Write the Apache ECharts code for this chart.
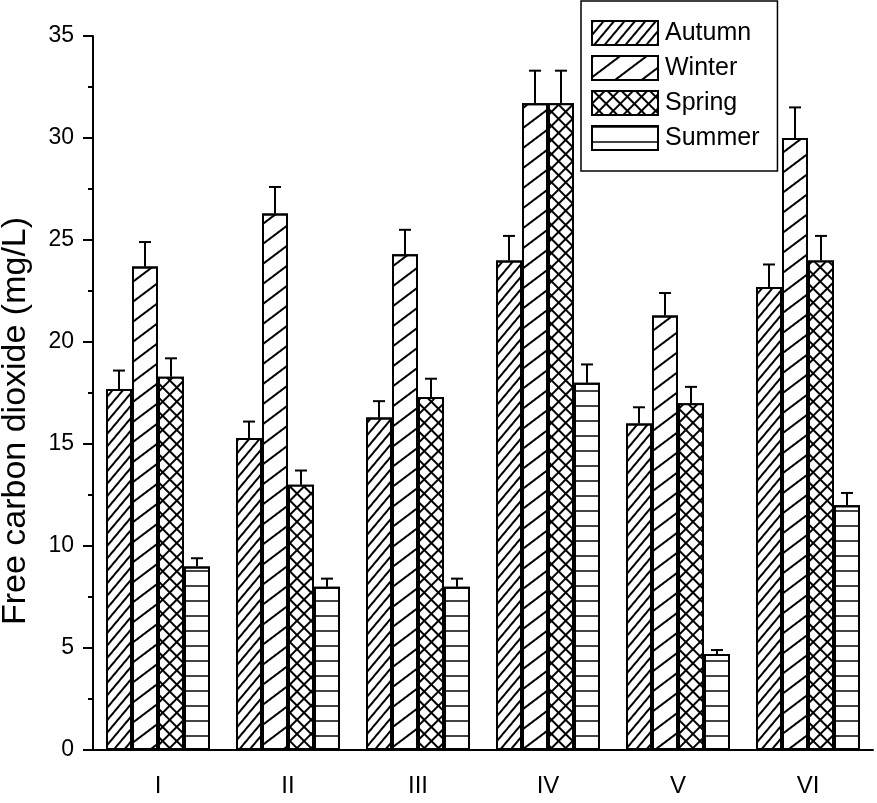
<!DOCTYPE html>
<html>
<head>
<meta charset="utf-8">
<script src="https://cdn.jsdelivr.net/npm/echarts@6/dist/echarts.min.js"></script>
<style>
  html, body { margin: 0; padding: 0; background: #fff; }
  #chart { width: 877px; height: 803px; }
</style>
</head>
<body>
<div id="chart"></div>
<script>
const sites = ["I", "II", "III", "IV", "V", "VI"];
const seasons = ["Autumn", "Winter", "Spring", "Summer"];

// mean values
const autumn = [17.7, 15.3, 16.3, 24.0, 16.0, 22.7];
const winter = [23.7, 26.3, 24.3, 31.7, 21.3, 30.0];
const spring = [18.3, 13.0, 17.3, 31.7, 17.0, 24.0];
const summer = [9.0, 8.0, 8.0, 18.0, 4.7, 12.0];

// top of error bars
const autumnErr = [18.6, 16.1, 17.1, 25.2, 16.8, 23.8];
const winterErr = [24.9, 27.6, 25.5, 33.3, 22.4, 31.5];
const springErr = [19.2, 13.7, 18.2, 33.3, 17.8, 25.2];
const summerErr = [9.4, 8.4, 8.4, 18.9, 4.9, 12.6];

const yTicks = [0, 5, 10, 15, 20, 25, 30, 35];

const means = [autumn, winter, spring, summer];
const errs = [autumnErr, winterErr, springErr, summerErr];

// hatch patterns
const decals = [
  { symbol: 'rect', symbolSize: 1, color: '#000', dashArrayX: [1, 0], dashArrayY: [1.5, 6], rotation: -Math.PI * 50 / 180 },
  { symbol: 'rect', symbolSize: 1, color: '#000', dashArrayX: [1, 0], dashArrayY: [1.5, 14], rotation: -Math.PI * 37 / 180 },
  { symbol: 'rect', symbolSize: 1, color: '#fff', dashArrayX: [7.8, 1.6], dashArrayY: [7.8, 1.6], rotation: Math.PI / 4 },
  { symbol: 'rect', symbolSize: 1, color: '#444', dashArrayX: [1, 0], dashArrayY: [1.5, 12.2], rotation: 0 }
];
const fills = ['#fff', '#fff', '#000', '#fff'];

const myChart = echarts.init(document.getElementById('chart'));

const series = [];
seasons.forEach((s, k) => {
  series.push({
    name: s,
    type: 'bar',
    data: means[k],
    barGap: '0%',
    barCategoryGap: '20%',
    itemStyle: {
      color: fills[k],
      borderColor: '#000',
      borderWidth: 2,
      decal: decals[k]
    },
    emphasis: { disabled: true }
  });
});
seasons.forEach((s, k) => {
  series.push({
    type: 'custom',
    z: 5,
    data: sites.map((c, i) => [i, means[k][i], errs[k][i]]),
    renderItem: function (params, api) {
      const catW = api.size([1, 0])[0];
      const bw = catW * 0.8 / 4;
      const x = api.coord([api.value(0), 0])[0] + (k - 1.5) * bw;
      const yBar = api.coord([api.value(0), api.value(1)])[1];
      const yTop = api.coord([api.value(0), api.value(2)])[1];
      const st = { stroke: '#000', lineWidth: 2 };
      return {
        type: 'group',
        children: [
          { type: 'line', shape: { x1: x, y1: yBar, x2: x, y2: yTop }, style: st },
          { type: 'line', shape: { x1: x - 6, y1: yTop, x2: x + 6, y2: yTop }, style: st }
        ]
      };
    }
  });
});

myChart.setOption({
  animation: false,
  textStyle: { fontFamily: 'Liberation Sans, Arial, sans-serif', color: '#000' },
  grid: { left: 93, right: 4, top: 36, bottom: 53, containLabel: false, outerBoundsMode: 'none' },
  legend: {
    data: seasons,
    icon: 'rect',
    orient: 'vertical',
    left: 581,
    top: 1,
    padding: [19, 18, 20, 10],
    itemGap: 9,
    itemWidth: 66,
    itemHeight: 24,
    borderColor: '#000',
    borderWidth: 1.5,
    selectedMode: false,
    textStyle: { fontSize: 25, lineHeight: 24, color: '#000', fontFamily: 'Liberation Sans, Arial, sans-serif', padding: [0, 0, 0, 2] }
  },
  xAxis: [
    {
      type: 'category',
      data: sites,
      axisLine: { lineStyle: { color: '#000', width: 2 } },
      axisTick: { alignWithLabel: true, length: 12, lineStyle: { color: '#000', width: 2 } },
      axisLabel: { fontSize: 24, color: '#000', margin: 24 }
    },
    {
      type: 'category',
      data: sites,
      position: 'bottom',
      axisLine: { show: false },
      axisTick: { length: 6, lineStyle: { color: '#000', width: 2 } },
      axisLabel: { show: false }
    }
  ],
  yAxis: {
    type: 'value',
    min: yTicks[0],
    max: yTicks[yTicks.length - 1],
    interval: 5,
    name: 'Free carbon dioxide (mg/L)',
    nameLocation: 'middle',
    nameGap: 60,
    nameTextStyle: { fontSize: 34, color: '#000', padding: [0, 56, 0, 0] },
    axisLine: { show: true, lineStyle: { color: '#000', width: 2 } },
    axisTick: { show: true, length: 10, lineStyle: { color: '#000', width: 2 } },
    minorTick: { show: true, splitNumber: 2, length: 5, lineStyle: { color: '#000', width: 2 } },
    splitLine: { show: false },
    axisLabel: { fontSize: 23, color: '#000', margin: 19 }
  },
  series: series
});
</script>
</body>
</html>
